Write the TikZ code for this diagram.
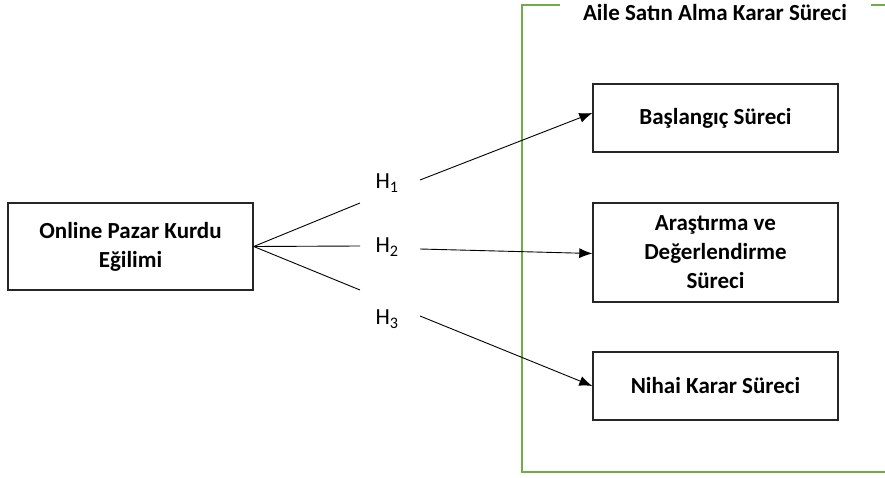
\documentclass[tikz,border=0pt]{standalone}
\usepackage{fontspec}
\setmainfont{Carlito}
\usetikzlibrary{arrows.meta}
\definecolor{framegreen}{RGB}{112,173,71}

\begin{document}
\begin{tikzpicture}[x=1pt, y=1pt,
    box/.style={draw=black!85, line width=1.4pt, minimum width=245pt, align=center, font=\fontsize{23}{29}\selectfont\bfseries},
    hlabel/.style={font=\fontsize{23}{27}\selectfont, inner sep=0pt},
    arrow/.style={-{Latex[length=13pt, width=10pt]}, line width=0.9pt}]
    \useasboundingbox (0,0) rectangle (885,477);
    % frame round the process
    \draw[framegreen, line width=1.6pt] (560,472) -- (522,472) -- (522,5) -- (890,5);
    \draw[framegreen, line width=1.6pt] (871,472) -- (890,472);
    \node[font=\fontsize{23}{27}\selectfont\bfseries] (title) at (715,464) {Aile Satın Alma Karar Süreci};
    % boxes
    \node[box, minimum height=87pt] (trend) at (130.5,230.5) {Online Pazar Kurdu\\Eğilimi};
    \node[box, minimum height=68pt] (start) at (715.5,359) {Başlangıç Süreci};
    \node[box, minimum height=99pt] (search) at (715.5,224.5) {Araştırma ve\\Değerlendirme\\Süreci};
    \node[box, minimum height=68pt] (final) at (715.5,91) {Nihai Karar Süreci};
    % hypotheses
    \node[hlabel] (h1) at (387,294) {H\textsubscript{1}};
    \node[hlabel] (h2) at (387,230) {H\textsubscript{2}};
    \node[hlabel] (h3) at (387,158) {H\textsubscript{3}};
    \coordinate (f1) at (360,274);
    \coordinate (f2) at (360,231);
    \coordinate (f3) at (360,187);
    \coordinate (s1) at (420,297);
    \coordinate (s2) at (420,228);
    \coordinate (s3) at (420,161);
    \foreach \i in {1,2,3}{
      \draw[line width=0.9pt] (trend.east) -- (f\i);
    }
    \draw[arrow] (s1) -- ([yshift=5pt]start.west);
    \draw[arrow] (s2) -- ([yshift=-1pt]search.west);
    \draw[arrow] (s3) -- (final.west);
  \end{tikzpicture}
\end{document}
